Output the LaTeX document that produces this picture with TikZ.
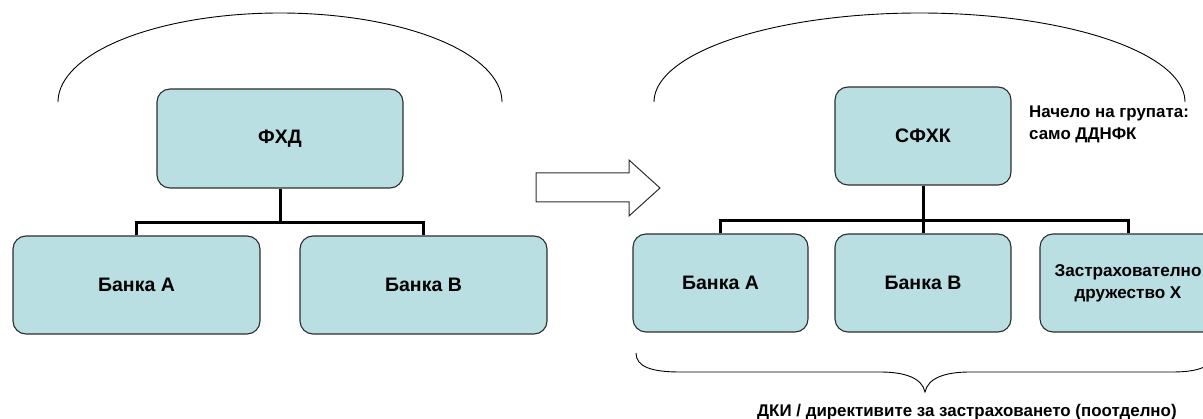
\documentclass[tikz,border=0pt]{standalone}
\usepackage{fontspec}
\setmainfont{Liberation Sans}
\definecolor{boxfill}{RGB}{185,223,227}
\definecolor{boxline}{RGB}{45,45,45}
\begin{document}
\begin{tikzpicture}[x=1pt,y=-1pt,
  orgbox/.style={draw=boxline,line width=1.1pt,fill=boxfill,rounded corners=13pt,inner sep=0pt,
    font=\bfseries\fontsize{19.5}{22}\selectfont,align=center},
  conn/.style={line width=3pt,black},
  thinline/.style={line width=0.9pt,black},
  lbl/.style={inner sep=0pt,font=\bfseries\fontsize{16.9}{22}\selectfont}]
\useasboundingbox (0,0) rectangle (1203,419);
% left group
\node[orgbox,minimum width=246pt,minimum height=99pt] (fxd) at (280,138.5) {ФХД};
\node[orgbox,minimum width=247pt,minimum height=98pt] (lA) at (136.5,285) {Банка А};
\node[orgbox,minimum width=247pt,minimum height=98pt] (lB) at (423.5,285) {Банка В};
\coordinate (jl) at (280,223);
\draw[conn] (fxd.south) -- (jl);
\draw[conn] (lA.north) |- (jl) -| (lB.north);
\draw[thinline] plot[smooth,samples=90,domain=0:180] ({280+222*cos(\x)},{102-89*sin(\x)});
% arrow
\draw[line width=1pt,draw=boxline,fill=white,line join=miter]
  (536,173) -- (629,173) -- (629,160) -- (660,188) -- (629,216) -- (629,202) -- (536,202) -- cycle;
% right group
\node[orgbox,minimum width=176pt,minimum height=98pt] (sfxk) at (923,136) {СФХК};
\node[orgbox,minimum width=175pt,minimum height=98pt] (rA) at (720.5,283) {Банка А};
\node[orgbox,minimum width=176pt,minimum height=98pt] (rB) at (923,283) {Банка В};
\node[orgbox,minimum width=176pt,minimum height=98pt,font=\bfseries\fontsize{17.1}{22}\selectfont] (ins) at (1128,283) {Застрахователно\\дружество Х};
\coordinate (jr) at (923,221);
\draw[conn] (sfxk.south) -- (jr);
\draw[conn] (rA.north) |- (jr) -| (ins.north);
\draw[conn] (rB.north) -- (jr);
\draw[thinline] plot[smooth,samples=90,domain=0:180] ({919.5+265.5*cos(\x)},{102-89*sin(\x)});
\node[lbl,align=left,anchor=north west] (head) at (1029,106) {Начело на групата:\\само ДДНФК};
% brace
\coordinate (bl) at (636,353);
\coordinate (bt) at (925,392);
\coordinate (br) at (1214,353);
\draw[thinline] (bl) .. controls (636,367) and (652,372) .. (680,372) -- (880,372)
  .. controls (905,372) and (922,378) .. (bt)
  .. controls (928,378) and (945,372) .. (970,372) -- (1172,372)
  .. controls (1198,372) and (1213,367) .. (br);
\node[lbl,anchor=base west] (dki) at (757,417) {ДКИ / директивите за застраховането (поотделно)};
\end{tikzpicture}
\end{document}
